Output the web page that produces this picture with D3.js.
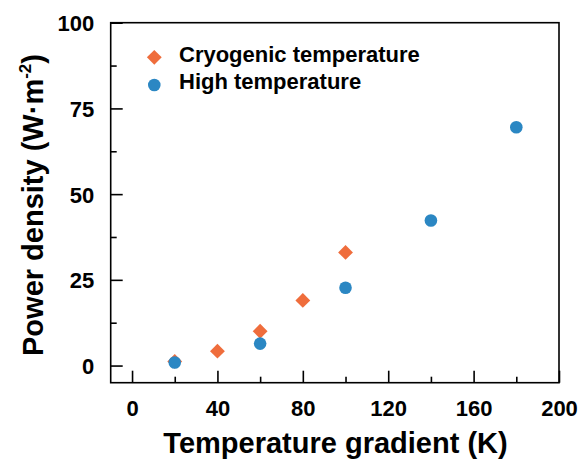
<!DOCTYPE html>
<html>
<head>
<meta charset="utf-8">
<script src="https://cdn.jsdelivr.net/npm/d3@7"></script>
<style>
  html, body { margin: 0; padding: 0; background: #fff; }
  svg { display: block; }
  text { font-family: "Liberation Sans", Arial, Helvetica, sans-serif; font-weight: bold; fill: #000; }
</style>
</head>
<body>
<svg id="chart" width="582" height="468"></svg>
<script>
// Temperature gradient (K) and power density (W·m⁻²) for each condition
const cryoX = [20, 40, 60, 80, 100];
const cryoY = [1.2, 4.2, 10.0, 19.0, 33.0];
const highX = [20, 60, 100, 140, 180];
const highY = [0.9, 6.4, 22.7, 42.3, 69.5];

const xTicks = [0, 40, 80, 120, 160, 200];
const xMinorTicks = [20, 60, 100, 140, 180];
const yTicks = [0, 25, 50, 75, 100];
const yMinorTicks = [12.5, 37.5, 62.5, 87.5];

const seriesNames = ["Cryogenic temperature", "High temperature"];
const seriesColors = ["#EF6D3C", "#2B87C3"];

const svg = d3.select("#chart");
const plotLeft = 110.7, plotRight = 559, plotTop = 22.7, plotBottom = 382.7;

const x = d3.scaleLinear().domain([-10, 200]).range([plotLeft, plotRight]);
const y = d3.scaleLinear().domain([-5, 100]).range([plotBottom, plotTop]);

// Frame
svg.append("rect")
  .attr("x", plotLeft).attr("y", plotTop)
  .attr("width", plotRight - plotLeft).attr("height", plotBottom - plotTop)
  .attr("fill", "none").attr("stroke", "#000").attr("stroke-width", 1.6);

// X axis: inward ticks along the bottom edge
const xAxis = d3.axisBottom(x).tickValues(xTicks).tickSize(-12).tickPadding(0).tickFormat(d3.format("d"));
const gx = svg.append("g").attr("transform", `translate(0,${plotBottom})`).call(xAxis);
gx.select(".domain").remove();
gx.selectAll("line").attr("stroke", "#000").attr("stroke-width", 1.6);
gx.selectAll("text").attr("font-size", 22).attr("y", 33.5).attr("dy", 0);

const gxm = svg.append("g").attr("transform", `translate(0,${plotBottom})`)
  .call(d3.axisBottom(x).tickValues(xMinorTicks).tickSize(-6).tickFormat(""));
gxm.select(".domain").remove();
gxm.selectAll("line").attr("stroke", "#000").attr("stroke-width", 1.6);

// Y axis: inward ticks along the left edge
const yAxis = d3.axisLeft(y).tickValues(yTicks).tickSize(-12).tickPadding(0).tickFormat(d3.format("d"));
const gy = svg.append("g").attr("transform", `translate(${plotLeft},0)`).call(yAxis);
gy.select(".domain").remove();
gy.selectAll("line").attr("stroke", "#000").attr("stroke-width", 1.6);
gy.selectAll("text").attr("font-size", 22).attr("x", -16.5).attr("dy", "0.36em");

const gym = svg.append("g").attr("transform", `translate(${plotLeft},0)`)
  .call(d3.axisLeft(y).tickValues(yMinorTicks).tickSize(-6).tickFormat(""));
gym.select(".domain").remove();
gym.selectAll("line").attr("stroke", "#000").attr("stroke-width", 1.6);

svg.selectAll(".tick text").attr("fill", "#000").style("font-family", "'Liberation Sans', Arial, sans-serif");

// Axis titles
svg.append("text")
  .attr("x", 335.5).attr("y", 453)
  .attr("text-anchor", "middle").attr("font-size", 29)
  .text("Temperature gradient (K)");

const yTitle = svg.append("text")
  .attr("transform", "translate(42.5,205) rotate(-90)")
  .attr("text-anchor", "middle").attr("font-size", 29);
yTitle.append("tspan").text("Power density (W·m");
yTitle.append("tspan").attr("font-size", 17).attr("dy", -12).text("-2");
yTitle.append("tspan").attr("dy", 12).text(")");

// Markers
const diamondPath = d3.symbol().type(d3.symbolSquare).size(110);

svg.append("g").selectAll("path")
  .data(cryoX.map((d, i) => [d, cryoY[i]]))
  .join("path")
  .attr("d", diamondPath)
  .attr("transform", d => `translate(${x(d[0])},${y(d[1])}) rotate(45)`)
  .attr("fill", seriesColors[0]);

svg.append("g").selectAll("circle")
  .data(highX.map((d, i) => [d, highY[i]]))
  .join("circle")
  .attr("cx", d => x(d[0])).attr("cy", d => y(d[1]))
  .attr("r", 6.3)
  .attr("fill", seriesColors[1]);

// Legend
const legend = svg.append("g");
legend.append("path")
  .attr("d", diamondPath)
  .attr("transform", "translate(154.3,57.3) rotate(45)")
  .attr("fill", seriesColors[0]);
legend.append("circle").attr("cx", 154.3).attr("cy", 85).attr("r", 6.3).attr("fill", seriesColors[1]);
legend.append("text").attr("x", 179).attr("y", 62.3).attr("font-size", 22).text(seriesNames[0]);
legend.append("text").attr("x", 179).attr("y", 89.3).attr("font-size", 22).text(seriesNames[1]);
</script>
</body>
</html>
